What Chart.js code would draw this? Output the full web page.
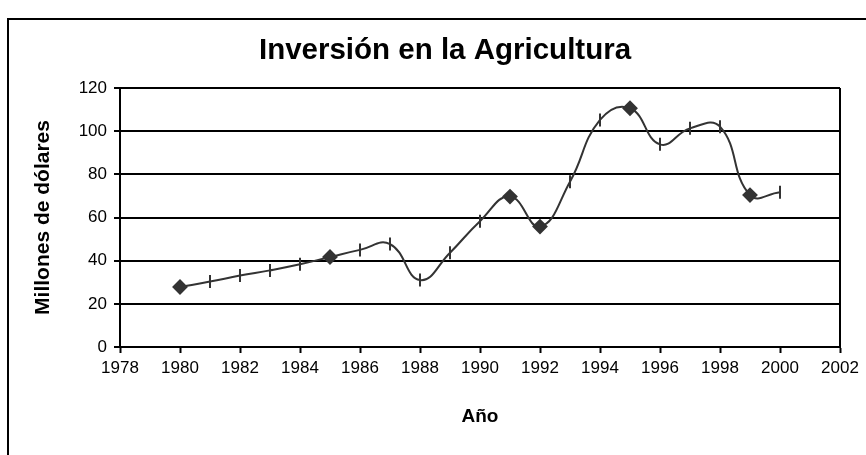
<!DOCTYPE html>
<html>
<head>
<meta charset="utf-8">
<script src="https://cdn.jsdelivr.net/npm/chart.js@4/dist/chart.umd.min.js"></script>
<style>
  html, body { margin: 0; padding: 0; background: #fff; }
  #wrap { width: 866px; height: 455px; }
</style>
</head>
<body>
<div id="wrap"><canvas id="chart"></canvas></div>
<script>
// datos
const years = [1980, 1981, 1982, 1983, 1984, 1985, 1986, 1987, 1988, 1989, 1990,
               1991, 1992, 1993, 1994, 1995, 1996, 1997, 1998, 1999, 2000];
const inversion = [27.8, 30.3, 33.1, 35.5, 38.3, 41.7, 45.0, 47.7, 31.0, 43.7, 58.3,
                   69.7, 55.8, 76.6, 105.2, 110.6, 93.9, 101.3, 102.1, 70.4, 71.7];
// años marcados con rombo, el resto con raya vertical
const diamondYears = [1980, 1985, 1991, 1992, 1995, 1999];
const xTicks = [1978, 1980, 1982, 1984, 1986, 1988, 1990, 1992, 1994, 1996, 1998, 2000, 2002];
const yTicks = [0, 20, 40, 60, 80, 100, 120];

const FONT = "'Liberation Sans', Arial, sans-serif";
const INK = "#333333";

const points = years.map((y, i) => ({ x: y, y: inversion[i] }));
const styles = years.map((y) => (diamondYears.includes(y) ? "rectRot" : "line"));
const rotations = years.map((y) => (diamondYears.includes(y) ? 0 : 90));

// marco exterior y borde derecho del area
const frame = {
    id: "frame",
    beforeDraw(chart) {
        const ctx = chart.ctx;
        ctx.save();
        ctx.fillStyle = "#fff";
        ctx.fillRect(0, 0, chart.width, chart.height);
        ctx.strokeStyle = "#000";
        ctx.lineWidth = 2;
        ctx.strokeRect(8, 19, chart.width + 20, chart.height + 20);
        ctx.restore();
    },
    afterDatasetsDraw(chart) {
        const { ctx, chartArea } = chart;
        ctx.save();
        ctx.strokeStyle = "#000";
        ctx.lineWidth = 2;
        ctx.beginPath();
        ctx.moveTo(chartArea.right, chartArea.top);
        ctx.lineTo(chartArea.right, chartArea.bottom);
        ctx.stroke();
        ctx.restore();
    },
};

new Chart(document.getElementById("chart"), {
    type: "line",
    data: {
        datasets: [
            {
                label: "Inversión",
                data: points,
                borderColor: INK,
                borderWidth: 2,
                backgroundColor: INK,
                pointStyle: styles,
                pointRotation: rotations,
                pointRadius: 6.5,
                pointBorderWidth: 2,
                pointBorderColor: INK,
                pointBackgroundColor: INK,
                tension: 0.45,
                fill: false,
            },
        ],
    },
    options: {
        responsive: true,
        maintainAspectRatio: false,
        animation: false,
        layout: { padding: { top: 0, right: 26, bottom: 0, left: 50 } },
        plugins: {
            legend: { display: false },
            tooltip: { enabled: false },
            title: {
                display: true,
                text: "Inversión en la Agricultura",
                color: "#000",
                font: { family: FONT, size: 29.5, weight: "bold", lineHeight: 1.2 },
                padding: { top: 33, bottom: 19.6 },
            },
        },
        scales: {
            x: {
                type: "linear",
                min: 1978,
                max: 2002,
                afterBuildTicks: (scale) => {
                    scale.ticks = xTicks.map((v) => ({ value: v }));
                },
                afterFit: (scale) => {
                    scale.height = 108;
                },
                ticks: {
                    color: "#000",
                    font: { family: FONT, size: 17 },
                    padding: 5,
                    maxRotation: 0,
                    autoSkip: false,
                    callback: (v) => String(v),
                },
                grid: {
                    drawOnChartArea: false,
                    drawTicks: true,
                    tickLength: 6,
                    tickColor: "#000",
                    tickWidth: 2,
                },
                border: { color: "#000", width: 2 },
                title: {
                    display: true,
                    text: "Año",
                    color: "#000",
                    font: { family: FONT, size: 19, weight: "bold", lineHeight: 1.2 },
                    padding: { top: 0, bottom: 27 },
                },
            },
            y: {
                min: 0,
                max: 120,
                afterBuildTicks: (scale) => {
                    scale.ticks = yTicks.map((v) => ({ value: v }));
                },
                afterFit: (scale) => {
                    scale.width = 70;
                },
                ticks: {
                    color: "#000",
                    font: { family: FONT, size: 17 },
                    padding: 7,
                },
                grid: {
                    color: "#000",
                    lineWidth: 2,
                    tickLength: 6,
                    tickColor: "#000",
                    tickWidth: 2,
                },
                border: { color: "#000", width: 2 },
                title: {
                    display: true,
                    text: "Millones de dólares",
                    color: "#000",
                    font: { family: FONT, size: 21, weight: "bold", lineHeight: 1.2 },
                    padding: { top: -19.6, bottom: 0 },
                },
            },
        },
    },
    plugins: [frame],
});
</script>
</body>
</html>
